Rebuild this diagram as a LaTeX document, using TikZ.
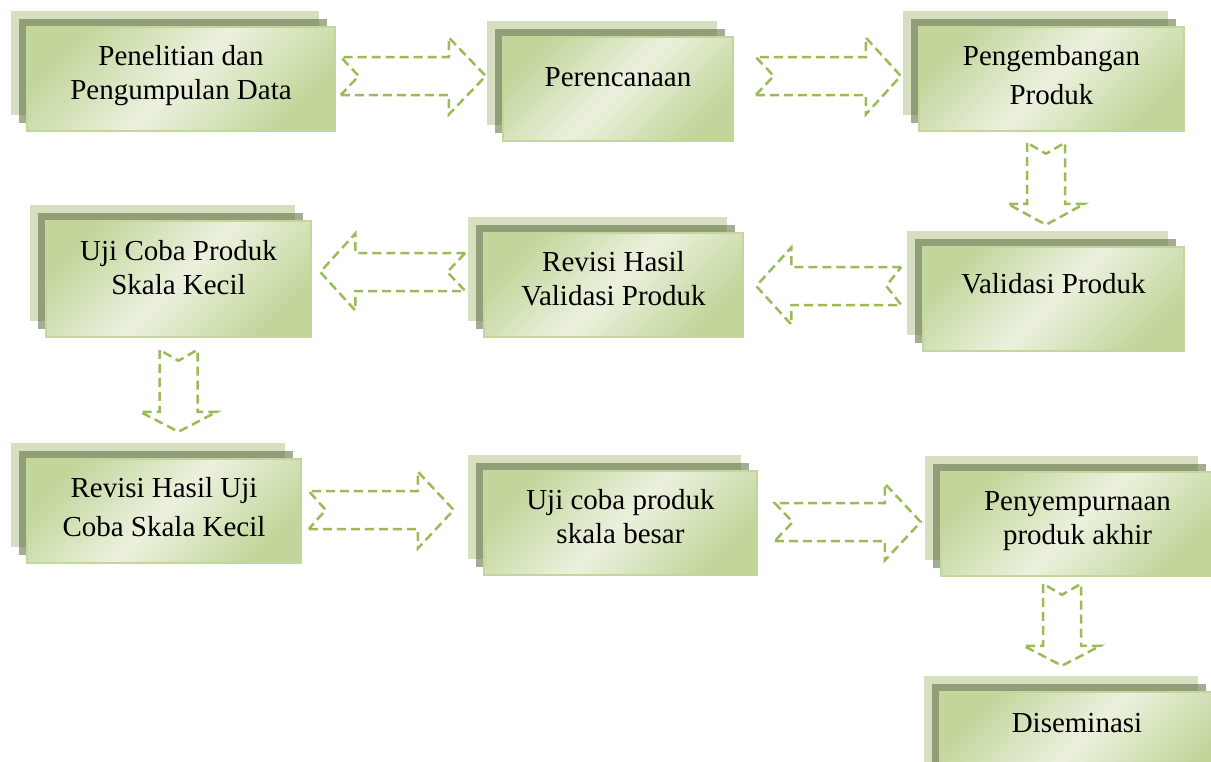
\documentclass[tikz,border=0pt]{standalone}
\usepackage{fontspec}
\setmainfont{Liberation Serif}
\usetikzlibrary{shadows, calc}
\definecolor{StageBack}{RGB}{214,223,192}
\definecolor{StageMid}{RGB}{90,105,60}
\definecolor{StageLight}{RGB}{235,241,222}
\definecolor{StageGreen}{RGB}{194,214,155}
\definecolor{StageEdge}{RGB}{195,214,155}
\definecolor{FlowArrow}{RGB}{155,187,89}

% dashed notched block arrow: tail point, angle, length, head length, notch depth
\newcommand{\notcharrow}[5]{%
  \draw[flow, shift={#1}, rotate=#2] (0,19) -- (#3-#4,19) -- (#3-#4,38.5) -- (#3,0)
    -- (#3-#4,-38.5) -- (#3-#4,-19) -- (0,-19) -- (#5,0) -- cycle;}

\begin{document}
\begin{tikzpicture}[
        x=1pt, y=-1pt,
        stagebox/.style={rectangle, inner sep=0pt, align=flush center,
            font=\fontsize{29}{34}\selectfont,
            text height=38pt, text depth=66pt,
            top color=StageGreen, bottom color=StageGreen, middle color=StageLight,
            shading angle=45, draw=StageEdge, line width=1.5pt,
            general shadow={fill=StageBack, draw=none, shadow xshift=-16pt, shadow yshift=16pt},
            general shadow={fill=StageMid, fill opacity=0.55, draw=none, shadow xshift=-8pt, shadow yshift=8pt}},
        flow/.style={draw=FlowArrow, line width=2.5pt, dash pattern=on 9pt off 5pt, line join=miter}
    ]

    \useasboundingbox (0,0) rectangle (1211,761);
    \clip (0,0) rectangle (1211,761);

    % row 1
    \node[stagebox, text width=308pt] (pen) at (181,79) {Penelitian dan\\Pengumpulan Data};
    \node[stagebox, text width=230pt, text height=49pt, text depth=55pt] (ren) at (618,89) {Perencanaan};
    \node[stagebox, text width=265pt] (pgb) at (1051.5,79) {Pengembangan\\[5pt]Produk};

    % row 2
    \node[stagebox, text width=261pt, text height=46pt, text depth=58pt] (val) at (1053.5,299) {Validasi Produk};
    \node[stagebox, text width=259pt] (rvv) at (613.5,285) {Revisi Hasil\\Validasi Produk};
    \node[stagebox, text width=265pt, text height=39pt, text depth=77pt] (ujk) at (178.5,279) {Uji Coba Produk\\Skala Kecil};

    % row 3
    \node[stagebox, text width=274pt] (rvu) at (164,511) {Revisi Hasil Uji\\[5pt]Coba Skala Kecil};
    \node[stagebox, text width=273pt] (ujb) at (620.5,523) {Uji coba produk\\skala besar};
    \node[stagebox, text width=273pt] (pny) at (1077.5,524) {Penyempurnaan\\produk akhir};
    \node[stagebox, text width=274pt, text height=40pt, text depth=64pt] (dis) at (1077,744) {Diseminasi};

    % arrows
    \notcharrow{($(pen.east)+(5,-3)$)}{0}{145}{37}{18}
    \notcharrow{($(ren.east)+(22,-13)$)}{0}{145}{35}{18}
    \notcharrow{($(pgb.south)+(-5.5,11)$)}{-90}{82}{21}{11}
    \notcharrow{($(val.west)+(-21,-13)$)}{180}{145}{35}{15}
    \notcharrow{($(rvv.west)+(-18,-13)$)}{180}{145}{35}{18}
    \notcharrow{($(ujk.south)+(0,12)$)}{-90}{82}{20}{11}
    \notcharrow{($(rvu.east)+(7,-1)$)}{0}{145}{36}{17}
    \notcharrow{($(ujb.east)+(17,-1)$)}{0}{146}{36}{18}
    \notcharrow{($(pny.south)+(-15.5,7)$)}{-90}{82}{20}{11}

\end{tikzpicture}
\end{document}
